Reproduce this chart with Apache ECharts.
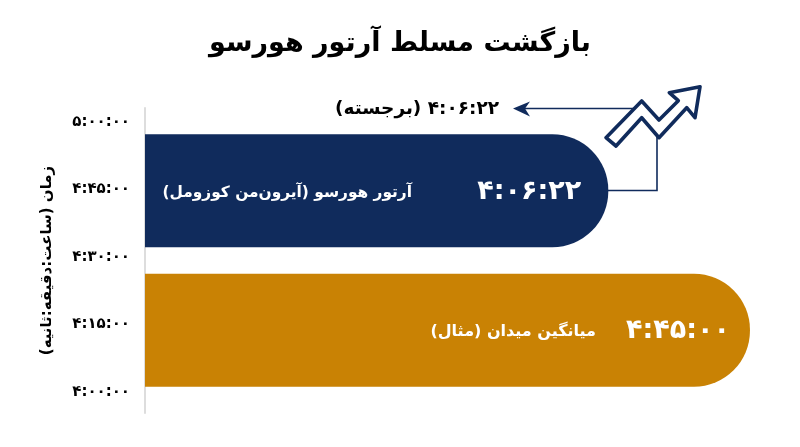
<!DOCTYPE html>
<html><head><meta charset="utf-8">
<style>html,body{margin:0;padding:0;background:#fff}#c{width:800px;height:447px}</style>
<script src="https://cdn.jsdelivr.net/npm/echarts@6/dist/echarts.min.js"></script>
</head><body><div id="c"></div>
<script>
const RLM = '\u200F';
const titleText = 'بازگشت مسلط آرتور هورسو';
const axisTitle = 'زمان (ساعت:دقیقه:ثانیه)';
const categories = ['آرتور هورسو (آیرون‌من کوزومل)', 'میانگین میدان (مثال)'];
const valueLabels = ['۴:۰۶:۲۲', '۴:۴۵:۰۰'];
const valuesSeconds = [14782, 17100];
const tickSeconds = [14400, 15300, 16200, 17100, 18000];
const tickLabels = ['۴:۰۰:۰۰', '۴:۱۵:۰۰', '۴:۳۰:۰۰', '۴:۴۵:۰۰', '۵:۰۰:۰۰'];
const callout = '۴:۰۶:۲۲ (برجسته)';
const barColors = ['#102b5c', '#c98204'];
const labelDistances = [27, 20];
const FONT = '"DejaVu Sans", sans-serif';
const chart = echarts.init(document.getElementById('c'));
chart.setOption({
  backgroundColor: '#fff',
  animation: false,
  title: {text: RLM + titleText + RLM, left: 'center', top: 25,
    textStyle: {fontFamily: FONT, fontSize: 27, fontWeight: 'bold', color: '#000'}},
  grid: [
    {left: 145, top: 108, width: 623.3, height: 305},
    {left: 145, top: 121, width: 623.3, height: 279}
  ],
  xAxis: [
    {gridIndex: 0, type: 'value', min: 0, max: 1, show: false},
    {gridIndex: 1, type: 'value', min: 7200, max: 17400, show: false}
  ],
  yAxis: [
    {gridIndex: 0, type: 'value', min: 14120, max: 18187, splitLine: {show: false},
     name: RLM + axisTitle + RLM, nameLocation: 'middle', nameRotate: 90, nameGap: 90,
     nameTextStyle: {fontFamily: FONT, fontSize: 15, fontWeight: 'bold', color: '#000'},
     axisLine: {show: true, onZero: false, lineStyle: {color: '#ddd', width: 2}},
     axisTick: {show: false},
     axisLabel: {customValues: tickSeconds, margin: 15, fontFamily: FONT, fontSize: 15, fontWeight: 'bold', color: '#000',
       formatter: v => tickLabels[tickSeconds.indexOf(v)] || ''}},
    {gridIndex: 1, type: 'category', inverse: true, data: categories, show: false}
  ],
  series: [{
    type: 'bar', xAxisIndex: 1, yAxisIndex: 1, barWidth: 113,
    data: valuesSeconds.map((v, i) => ({value: v,
      itemStyle: {color: barColors[i], borderRadius: [0, 56, 56, 0]},
      label: {distance: labelDistances[i]}})),
    label: {show: true, position: 'insideRight', offset: [0, 1], color: '#fff', fontFamily: FONT, fontSize: 27, fontWeight: 'bold',
      formatter: p => valueLabels[p.dataIndex]}
  }],
  graphic: [
    {type: 'text', z: 100, x: 412, y: 193, style: {text: RLM + categories[0] + RLM, fill: '#fff', font: 'bold 15.4px ' + FONT, textAlign: 'right', textVerticalAlign: 'middle'}},
    {type: 'text', z: 100, x: 596, y: 332, style: {text: RLM + categories[1] + RLM, fill: '#fff', font: 'bold 16px ' + FONT, textAlign: 'right', textVerticalAlign: 'middle'}},
    {type: 'text', z: 100, x: 499, y: 109, style: {text: RLM + callout + RLM, fill: '#000', font: 'bold 18.5px ' + FONT, textAlign: 'right', textVerticalAlign: 'middle'}},
    {type: 'polyline', z: 100, shape: {points: [[607, 190.5], [657, 190.5], [657, 137]]}, style: {stroke: '#102b5c', lineWidth: 1.6, fill: null}},
    {type: 'line', z: 100, shape: {x1: 640, y1: 108.5, x2: 522, y2: 108.5}, style: {stroke: '#102b5c', lineWidth: 1.6}},
    {type: 'polygon', z: 100, shape: {points: [[513, 108.5], [530, 101.5], [525, 108.5], [530, 116.5]]}, style: {fill: '#102b5c'}},
    {type: 'polygon', z: 101, shape: {points: [[606, 137.7], [641.7, 101], [659, 120], [678.3, 100.7], [669.3, 92.7], [700, 86.7], [695, 117.7], [686.7, 107.7], [659, 137.7], [641.7, 117.7], [616, 146]]},
     style: {fill: '#fff', stroke: '#102b5c', lineWidth: 3.6, lineJoin: 'round'}}
  ]
});
</script></body></html>
